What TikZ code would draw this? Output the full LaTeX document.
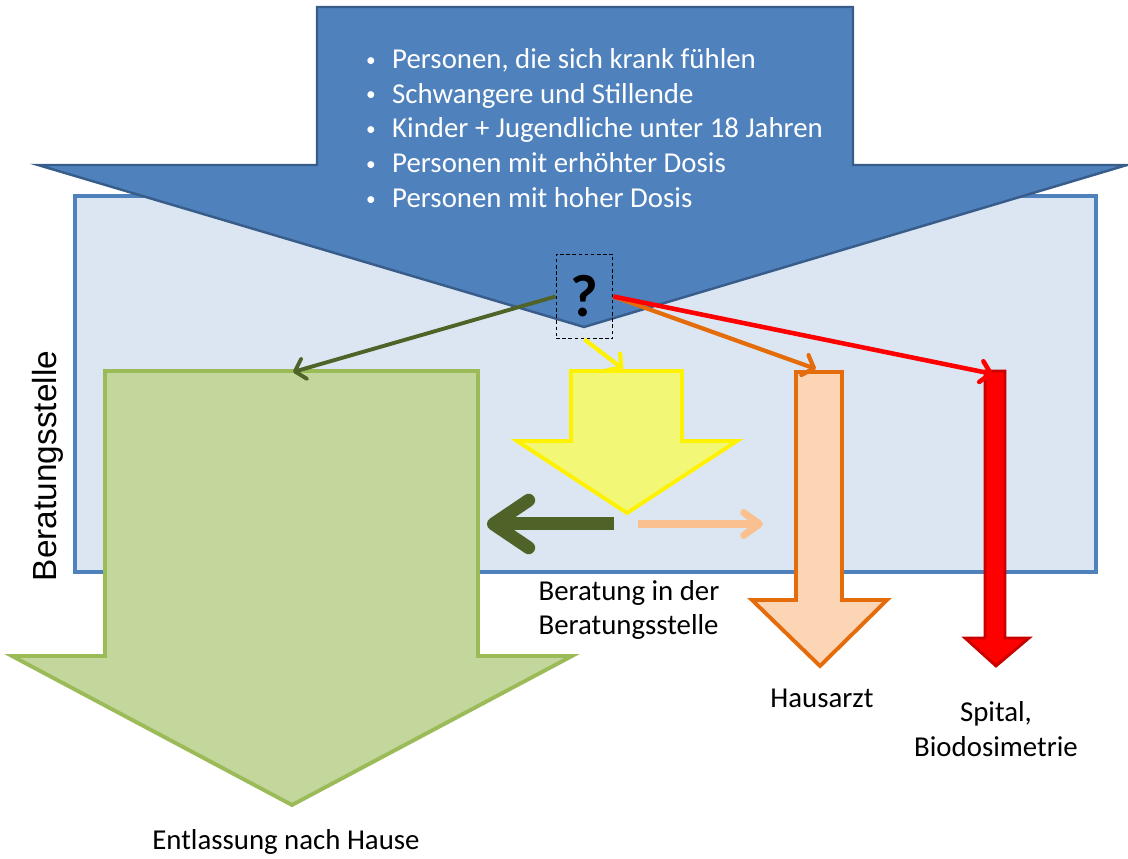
\documentclass[tikz,border=0pt]{standalone}
\usepackage{fontspec}
\setmainfont{Carlito}
\newfontfamily\arialfont{Liberation Sans}
\usetikzlibrary{arrows.meta}

\definecolor{blau}{RGB}{79,129,189}
\definecolor{blaurand}{RGB}{56,93,138}
\definecolor{stellefill}{RGB}{220,230,242}
\definecolor{gruen}{RGB}{195,214,155}
\definecolor{gruenrand}{RGB}{155,187,89}
\definecolor{olive}{RGB}{79,98,40}
\definecolor{gelb}{RGB}{243,247,118}
\definecolor{orangefill}{RGB}{252,213,181}
\definecolor{orangerand}{RGB}{228,108,10}
\definecolor{hellorange}{RGB}{250,192,144}
\definecolor{rotrand}{RGB}{200,0,0}

\newcommand{\punkt}{\makebox[15.3pt][l]{\hspace{0.5pt}\raisebox{1.2pt}{\fontsize{11}{11}\selectfont\textbullet}}}

\begin{document}
\begin{tikzpicture}[x=0.2mm,y=-0.2mm,
  blockpfeil/.style={line width=2.2pt,line join=miter},
  linie/.style={line width=2.2pt,-{Straight Barb[length=5.5pt,width=12pt,round]}},
  beschrift/.style={font=\fontsize{16.4}{19.8}\selectfont,align=center,inner sep=0pt}]
  \useasboundingbox (0,0) rectangle (1128,859);

  %%%%%%%%%%%%%Beratungsstelle%%%%%%%%%%%%%%%%%%%%%%
  \draw[line width=2.2pt,draw=blau,fill=stellefill] (75,196) rectangle (1096,572);
  \node[font=\arialfont\fontsize{19}{19}\selectfont,rotate=90,inner sep=0pt] (stelle) at (48,466) {Beratungsstelle};

  %%%%%%%%%%%%%Zielgruppen%%%%%%%%%%%%%%%%%%%%%%
  \draw[line width=1.4pt,draw=blaurand,fill=blau,line join=miter]
    (317,7) -- (853,7) -- (853,165) -- (1127,165) -- (584,327) -- (38,165) -- (317,165) -- cycle;
  \node[text=white,anchor=west,align=left,inner sep=0pt,
        font=\fontsize{16.4}{19.8}\selectfont] (liste) at (365,128)
    {\punkt Personen, die sich krank fühlen\\
     \punkt Schwangere und Stillende\\
     \punkt Kinder + Jugendliche unter 18 Jahren\\
     \punkt Personen mit erhöhter Dosis\\
     \punkt Personen mit hoher Dosis};

  %%%%%%%%%%%%%Die vier Wege%%%%%%%%%%%%%%%%%%%%%%
  \draw[blockpfeil,draw=gruenrand,fill=gruen]
    (105,371) -- (478,371) -- (478,656) -- (572,656) -- (292,805) -- (12,656) -- (105,656) -- cycle;
  \draw[blockpfeil,draw=yellow,fill=gelb]
    (571,371) -- (682,371) -- (682,441) -- (737,441) -- (627,513) -- (517,441) -- (571,441) -- cycle;
  \draw[blockpfeil,draw=orangerand,fill=orangefill]
    (796,372) -- (842,372) -- (842,600) -- (887,600) -- (820,666) -- (752,600) -- (796,600) -- cycle;
  \draw[line width=1.6pt,draw=rotrand,fill=red,line join=miter]
    (985,371) -- (1005,371) -- (1005,638) -- (1029,638) -- (996,666) -- (965,638) -- (985,638) -- cycle;

  \draw[beschrift] (629,610) node[align=left] (berat) {Beratung in der\\Beratungsstelle};
  \draw[beschrift] (822,698) node (hausarzt) {Hausarzt};
  \draw[beschrift] (996,729) node (spital) {Spital,\\Biodosimetrie};
  \draw[beschrift] (286,842) node (entlass) {Entlassung nach Hause};

  %%%%%%%%%%%%%Entscheidung%%%%%%%%%%%%%%%%%%%%%%
  \node[draw,dash pattern=on 2pt off 1.5pt,line width=0.6pt,inner sep=0pt,
        minimum width=32.3pt,minimum height=48.2pt,
        font=\bfseries\fontsize{34}{34}\selectfont] (frage) at (584.5,296.5) {?};

  \coordinate (gruenziel) at (293,372);
  \coordinate (gelbziel) at (623,369);
  \coordinate (orangeziel) at (816,369);
  \coordinate (rotziel) at (993,374);
  \coordinate (zurueck a) at (614,524);
  \coordinate (zurueck b) at (487,524);
  \coordinate (weiter a) at (638,524);
  \coordinate (weiter b) at (763,524);

  \draw[linie,olive] (frage.west) -- (gruenziel);
  \draw[linie,yellow,line width=2.4pt] (frage.south) -- (gelbziel);
  \draw[linie,orangerand,line width=2.4pt] (frage.east) -- (orangeziel);
  \draw[linie,red,line width=2.6pt] (frage.east) -- (rotziel);

  \draw[olive,line width=7.4pt,-{Straight Barb[length=20pt,width=27pt,round]}] (zurueck a) -- (zurueck b);
  \draw[hellorange,line width=4pt,-{Straight Barb[length=9pt,width=13pt,round]}] (weiter a) -- (weiter b);
\end{tikzpicture}
\end{document}
